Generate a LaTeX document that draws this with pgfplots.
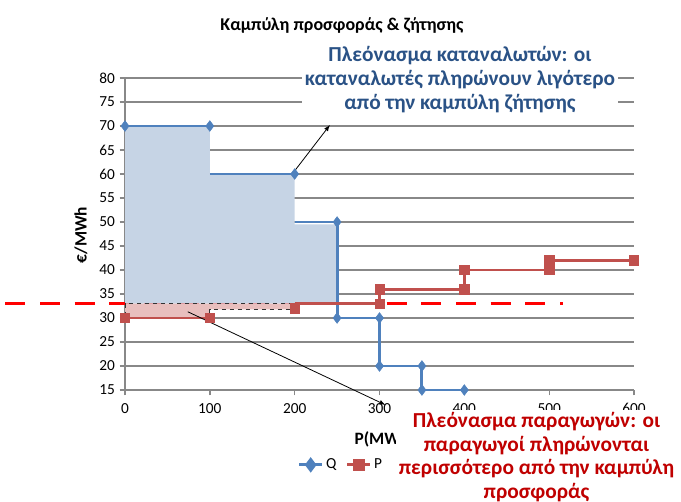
\documentclass[border=0pt]{standalone}
\usepackage{pgfplots}
\pgfplotsset{compat=1.18}
\usepackage{fontspec}
\setmainfont{Carlito}
\definecolor{qblue}{HTML}{4F81BD}
\definecolor{pred}{HTML}{C0504D}
\definecolor{csfill}{HTML}{C6D4E5}
\definecolor{psfill}{HTML}{E8BFBE}
\definecolor{gridgray}{HTML}{888888}
\definecolor{bluetext}{HTML}{2A5286}
\definecolor{redtext}{HTML}{C00000}
\begin{document}
\begin{tikzpicture}
\useasboundingbox (0,0) rectangle (510.75pt,376.5pt);
\begin{axis}[
  at={(93.75pt,84pt)}, anchor=south west,
  scale only axis, width=381.75pt, height=234pt,
  xmin=0, xmax=600, ymin=15, ymax=80,
  xtick={0,100,...,600}, ytick={15,20,...,80},
  axis lines*=left,
  axis line style={gridgray, line width=1.2pt},
  ymajorgrids, grid style={gridgray, line width=1.2pt},
  tick align=outside, major tick length=4pt,
  tick style={gridgray, line width=1pt},
  tick label style={font=\fontsize{11.5}{13}\selectfont},
  xticklabel style={yshift=-2.5pt},
  /pgf/number format/assume math mode=true,
  clip=false,
  unbounded coords=jump,
  legend columns=2,
  legend style={at={(0.425,-0.24)}, anchor=center, draw=none, fill=none,
    font=\fontsize{11.5}{13}\selectfont, /tikz/every even column/.append style={column sep=5pt}},
  legend cell align=left,
]
\addlegendimage{qblue, line width=2.2pt, mark=diamond*, mark size=4pt, mark options={fill=qblue}}
\addlegendentry{Q}
\addlegendimage{pred, line width=2.2pt, mark=square*, mark size=3.5pt, mark options={fill=pred}}
\addlegendentry{P}
% equilibrium price line
\addplot[red, line width=2.2pt, dash pattern=on 15pt off 11pt, forget plot] coordinates {(-141,33) (516,33)};
% consumer surplus
\addplot[fill=csfill, draw=none, forget plot] coordinates {(0,33) (0,70) (100,70) (100,60) (200,60) (200,49.5) (250,49.5) (250,33)} -- cycle;
% producer surplus
\addplot[fill=psfill, draw=black!80, dashed, line width=0.6pt, forget plot] coordinates {(0,33) (0,30) (100,30) (100,31.8) (200,31.8) (200,33)} -- cycle;
% demand Q (line segments)
\addplot[qblue, line width=2.2pt, forget plot] coordinates {
(0,70) (100,70) (150,nan) (100,60) (200,60) (225,nan) (200,50) (250,50) (250,30) (300,30) (300,20) (350,20) (350,15) (400,15)};
% demand Q (markers)
\addplot[qblue, only marks, mark=diamond*, mark size=4pt, mark options={fill=qblue}, forget plot] coordinates {
(0,70) (100,70) (200,60) (250,50) (250,30) (300,30) (300,20) (350,20) (350,15) (400,15)};
% supply P (line segments)
\addplot[pred, line width=2.2pt, forget plot] coordinates {
(0,30) (100,30) (150,nan) (200,33) (300,33) (300,36) (400,36) (400,40) (500,40) (500,42) (600,42)};
% supply P (markers)
\addplot[pred, only marks, mark=square*, mark size=3.5pt, mark options={fill=pred}, forget plot] coordinates {
(0,30) (100,30) (200,32) (300,33) (300,36) (400,36) (400,40) (500,40) (500,42) (600,42)};
% arrows
\draw[-latex, line width=0.6pt] (axis cs:198,60.2) -- (axis cs:241.5,70.2);
\draw[-latex, line width=0.6pt] (axis cs:74,31.3) -- (axis cs:307,11.9);
\end{axis}
\node[font=\fontsize{13.5}{15}\selectfont\bfseries] at (256.5pt,357.5pt) {Καμπύλη προσφοράς \& ζήτησης};
\node[rotate=90, font=\fontsize{13}{15}\selectfont\bfseries] at (60.75pt,200.25pt) {€/MWh};
\node[font=\fontsize{13}{15}\selectfont\bfseries] at (285pt,47.25pt) {P(MW)};
\node[fill=white, align=center, inner sep=2pt, text=bluetext, font=\fontsize{16}{18}\selectfont\bfseries] at (345pt,316.5pt) {Πλεόνασμα καταναλωτών: οι\\καταναλωτές πληρώνουν λιγότερο\\από την καμπύλη ζήτησης};
\node[fill=white, align=center, inner sep=2pt, text=redtext, font=\fontsize{16}{17.6}\selectfont\bfseries] at (402.4pt,33.75pt) {Πλεόνασμα παραγωγών: οι\\παραγωγοί πληρώνονται\\περισσότερο από την καμπύλη\\προσφοράς};
\end{tikzpicture}
\end{document}
